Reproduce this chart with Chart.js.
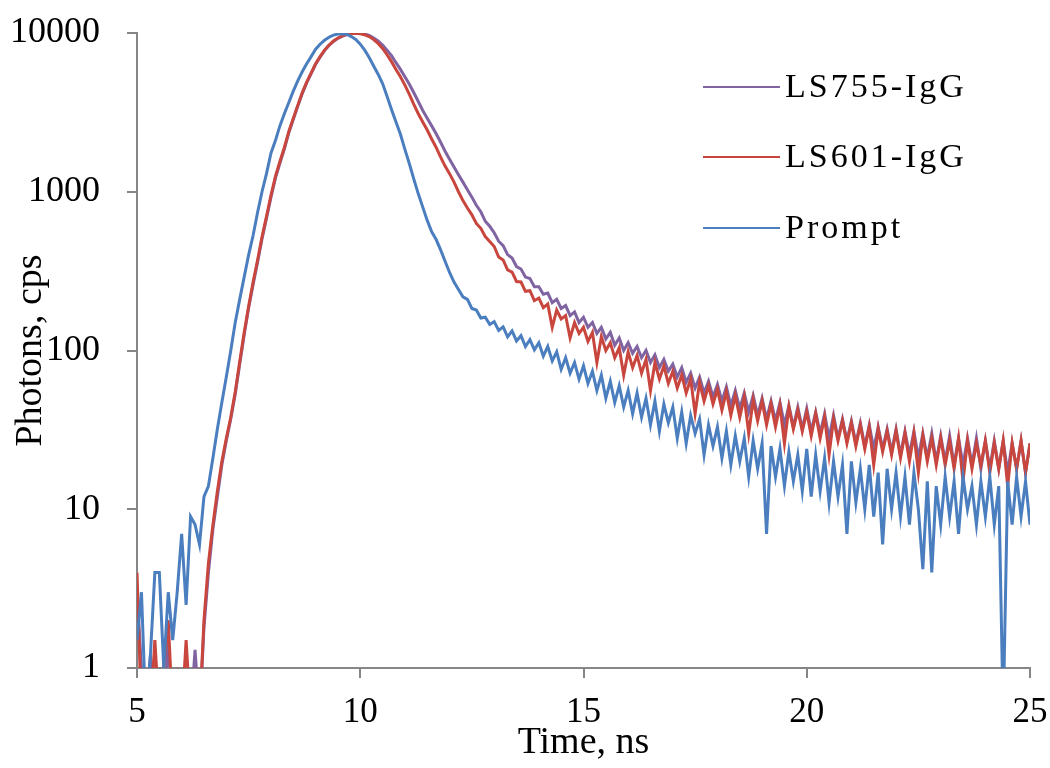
<!DOCTYPE html>
<html>
<head>
<meta charset="utf-8">
<script src="https://cdn.jsdelivr.net/npm/chart.js"></script>
<style>
  body { margin: 0; background: #fff; }
  #wrap { width: 1050px; height: 768px; }
</style>
</head>
<body>
<div id="wrap"><canvas id="grafico" width="1050" height="768"></canvas></div>
<script>
// time grid, 0.1 ns steps from 5 to 25 ns
const times = Array.from({ length: 201 }, (_, i) => +(5 + i * 0.1).toFixed(1));

const seriesNames = ['LS755-IgG', 'LS601-IgG', 'Prompt'];
const xTicks = [5, 10, 15, 20, 25];
const yTicks = [1, 10, 100, 1000, 10000];

// photons, cps
const ls755 = [
  3, 1, 0.5, 1.2, 0.5, 1, 0.5, 1.5, 0.5, 1,
  0.5, 1, 0.5, 1.3, 0.5, 1.8, 4, 7.5, 12, 19,
  27, 37, 53, 82, 125, 185, 260, 360, 505, 680,
  920, 1220, 1510, 1860, 2350, 2850, 3450, 4150, 4850, 5550,
  6350, 7050, 7750, 8350, 8850, 9250, 9550, 9780, 9900, 9960,
  9950, 9850, 9650, 9300, 8900, 8400, 7800, 7200, 6500, 5900,
  5300, 4750, 4200, 3700, 3250, 2900, 2600, 2320, 2050, 1800,
  1600, 1430, 1280, 1150, 1030, 925, 822, 748, 652, 606,
  552, 488, 458, 402, 382, 338, 326, 290, 284, 252,
  252, 226, 230, 200, 210, 184, 192, 166, 175, 150,
  162, 140, 150, 128, 140, 118, 130, 108, 120, 100,
  112, 96, 106, 90, 100, 84, 94, 78, 88, 74,
  82, 68, 78, 63, 72, 58, 68, 54, 64, 51,
  61, 48, 59, 45, 56, 43, 54, 41, 52, 39,
  50, 37, 48, 36, 47, 34, 45, 33, 44, 32,
  43, 31, 41, 30, 40, 28, 39, 28, 37, 27,
  36, 26, 35, 25, 34, 24, 33, 24, 32, 23,
  32, 22, 31, 22, 31, 21, 30, 21, 30, 20,
  29, 20, 29, 19, 28, 19, 28, 19, 28, 18,
  27, 18, 27, 18, 27, 17, 26, 18, 27, 17,
  26
];

const ls601 = [
  4, 0.5, 1, 0.5, 1.5, 0.5, 1, 2, 0.5, 1,
  0.5, 1.5, 0.5, 1, 0.5, 2, 4.6, 8, 13, 20,
  28, 38, 55, 85, 130, 190, 270, 370, 520, 700,
  950, 1250, 1550, 1900, 2400, 2900, 3500, 4200, 4900, 5600,
  6400, 7100, 7800, 8400, 8900, 9300, 9600, 9800, 9900, 9950,
  9900, 9750, 9500, 9100, 8600, 8000, 7300, 6600, 5900, 5300,
  4700, 4100, 3550, 3100, 2750, 2450, 2150, 1900, 1650, 1450,
  1300, 1150, 1000, 880, 790, 715, 632, 588, 522, 486,
  452, 388, 372, 322, 312, 272, 270, 236, 238, 206,
  214, 186, 196, 140, 180, 158, 166, 120, 150, 128,
  140, 114, 130, 84, 122, 100, 112, 90, 104, 70,
  98, 78, 93, 72, 88, 56, 84, 66, 80, 62,
  74, 58, 70, 54, 66, 40, 63, 48, 60, 46,
  57, 42, 55, 39, 52, 38, 51, 30, 49, 36,
  48, 34, 46, 33, 45, 26, 44, 32, 42, 31,
  41, 29, 40, 28, 38, 22, 37, 27, 36, 26,
  35, 25, 34, 24, 33, 19, 32, 23, 31, 22,
  31, 21, 30, 20, 30, 17, 29, 20, 28, 19,
  28, 19, 27, 18, 28, 15, 27, 18, 26, 19,
  27, 17, 26, 18, 27, 14, 26, 18, 27, 17,
  26
];

const prompt = [
  1.5, 3, 0.5, 1.2, 4, 4, 1, 3, 1.5, 3,
  7, 2.5, 9, 8, 6, 12, 14, 21, 32, 47,
  68, 100, 150, 210, 290, 400, 530, 740, 1000, 1300,
  1750, 2100, 2600, 3100, 3650, 4300, 5000, 5700, 6400, 7100,
  7900, 8500, 9000, 9400, 9700, 9850, 9900, 9800, 9500, 9100,
  8500, 7800, 7000, 6200, 5500, 4800, 4000, 3300, 2750, 2300,
  1850, 1500, 1200, 970, 800, 660, 560, 500, 430, 365,
  310, 270, 242, 218, 210, 184, 180, 160, 162, 146,
  152, 134, 141, 122, 133, 115, 124, 106, 117, 101,
  112, 92, 106, 86, 98, 76, 90, 72, 84, 66,
  80, 62, 74, 56, 70, 50, 64, 47, 60, 44,
  56, 40, 54, 38, 50, 34, 48, 31, 46, 35,
  44, 28, 41, 26, 39, 30, 37, 22, 34, 25,
  33, 21, 31, 19, 29, 20, 28, 16, 27, 18,
  26, 7, 25, 16, 24, 14, 23, 15, 22, 13,
  24, 12, 22, 13, 21, 11, 20, 12, 19, 7,
  20, 11, 18, 10, 19, 9, 17, 6, 18, 10,
  17, 9, 16, 8, 17, 10, 4.2, 15, 4, 14,
  8, 16, 9, 15, 7, 16, 10, 14, 8, 15,
  9, 16, 8, 14, 0.5, 15, 8, 16, 9, 15,
  8
];

const colores = ['#8064a2', '#c8463d', '#4a7ebf'];
const valores = [ls755, ls601, prompt];

const toPoints = arr => arr.map((v, i) => ({ x: times[i], y: v }));

Chart.defaults.font.family = '"Liberation Serif", "Times New Roman", serif';
Chart.defaults.color = '#000';

// legend drawn inside the plot, top right
const legendaPlugin = {
  id: 'legenda',
  afterDraw(chart) {
    const ctx = chart.ctx;
    const ys = [87, 157, 228];
    ctx.save();
    ctx.font = '34px "Liberation Serif"';
    ctx.letterSpacing = '3px';
    ctx.textBaseline = 'middle';
    ctx.fillStyle = '#000';
    chart.data.datasets.forEach((ds, i) => {
      ctx.strokeStyle = ds.borderColor;
      ctx.lineWidth = 2;
      ctx.beginPath();
      ctx.moveTo(703, ys[i]);
      ctx.lineTo(780, ys[i]);
      ctx.stroke();
      ctx.fillText(ds.label, 785, ys[i] + 1);
    });
    ctx.restore();
  }
};

const ctx = document.getElementById('grafico');
const grafico = new Chart(ctx, {
  type: 'line',
  data: {
    datasets: seriesNames.map((nome, i) => ({
      label: nome,
      data: toPoints(valores[i]),
      borderColor: colores[i],
      borderWidth: 3,
      pointRadius: 0,
      tension: 0,
      order: 2 - i
    }))
  },
  options: {
    responsive: false,
    animation: false,
    layout: { padding: { top: 33, right: 20, left: 0, bottom: 0 } },
    plugins: { legend: { display: false }, tooltip: { enabled: false } },
    scales: {
      x: {
        type: 'linear',
        min: 5,
        max: 25,
        afterBuildTicks: s => { s.ticks = xTicks.map(v => ({ value: v })); },
        afterFit: s => { s.height = 100; s.paddingLeft = 0; s.paddingRight = 0; },
        grid: { drawOnChartArea: false, drawTicks: true, tickLength: 10, color: '#868686', lineWidth: 2 },
        border: { color: '#868686', width: 2 },
        ticks: { font: { size: 35 }, padding: 14, maxRotation: 0, callback: v => String(v) },
        title: { display: true, text: 'Time, ns', font: { size: 38 }, padding: { top: 0, bottom: 2 } }
      },
      y: {
        type: 'logarithmic',
        min: 1,
        max: 10000,
        afterBuildTicks: s => { s.ticks = yTicks.map(v => ({ value: v })); },
        afterFit: s => { s.width = 137; s.paddingTop = 0; s.paddingBottom = 0; },
        grid: { drawOnChartArea: false, drawTicks: true, tickLength: 10, color: '#868686', lineWidth: 2 },
        border: { color: '#868686', width: 2 },
        ticks: { font: { size: 36 }, padding: 27, callback: v => String(v) },
        title: { display: true, text: 'Photons, cps', font: { size: 38 }, padding: { top: 8, bottom: 0 } }
      }
    }
  },
  plugins: [legendaPlugin]
});
</script>
</body>
</html>
